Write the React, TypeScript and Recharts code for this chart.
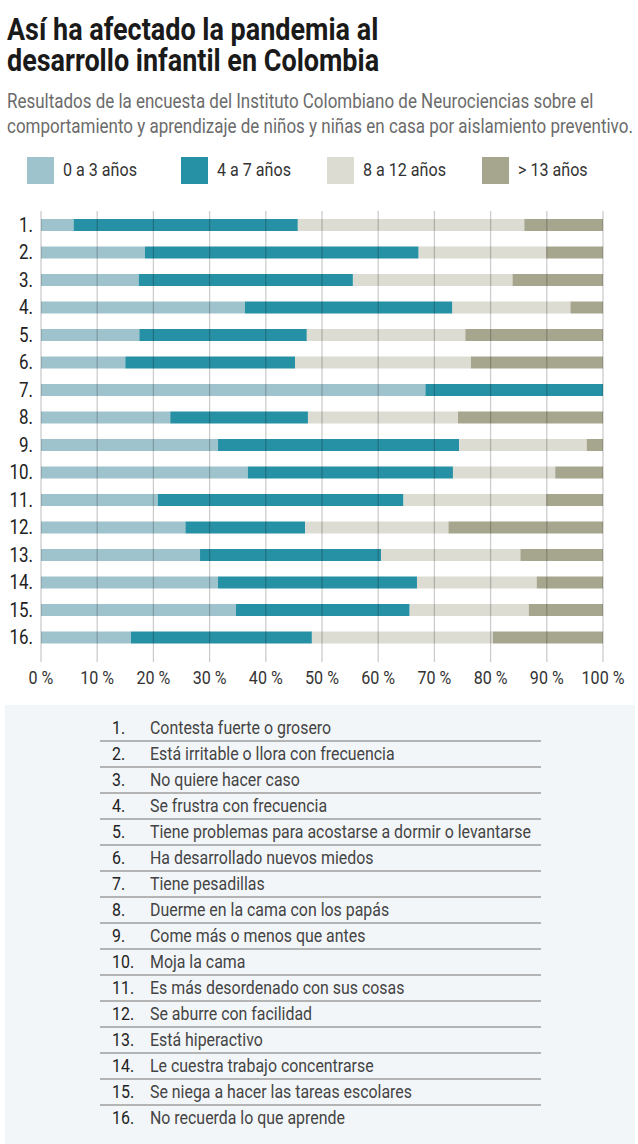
import { BarChart, Bar, XAxis, YAxis, ReferenceLine } from 'recharts'

const CATEGORIES = ['1.', '2.', '3.', '4.', '5.', '6.', '7.', '8.', '9.', '10.', '11.', '12.', '13.', '14.', '15.', '16.']
const AGE_0_3 = [5.8, 18.5, 17.4, 36.3, 17.5, 15.0, 68.4, 23.0, 31.5, 36.8, 20.8, 25.7, 28.3, 31.5, 34.7, 16.0]
const AGE_4_7 = [39.9, 48.7, 38.1, 36.9, 29.8, 30.2, 31.6, 24.5, 42.9, 36.5, 43.7, 21.3, 32.2, 35.4, 30.9, 32.2]
const AGE_8_12 = [40.3, 22.7, 28.4, 21.0, 28.2, 31.3, 0, 26.7, 22.7, 18.2, 25.4, 25.5, 24.8, 21.3, 21.2, 32.2]
const AGE_13 = [14.0, 10.1, 16.1, 5.8, 24.5, 23.5, 0, 25.8, 2.9, 8.5, 10.1, 27.5, 14.7, 11.8, 13.2, 19.6]
const X_TICKS = [0, 10, 20, 30, 40, 50, 60, 70, 80, 90, 100]

const SERIES = [
  { key: 'a', name: '0 a 3 años', color: '#9fc3cc' },
  { key: 'b', name: '4 a 7 años', color: '#2690a4' },
  { key: 'c', name: '8 a 12 años', color: '#dcdcd3' },
  { key: 'd', name: '> 13 años', color: '#a6a58d' },
]

const ITEMS = [
  'Contesta fuerte o grosero',
  'Está irritable o llora con frecuencia',
  'No quiere hacer caso',
  'Se frustra con frecuencia',
  'Tiene problemas para acostarse a dormir o levantarse',
  'Ha desarrollado nuevos miedos',
  'Tiene pesadillas',
  'Duerme en la cama con los papás',
  'Come más o menos que antes',
  'Moja la cama',
  'Es más desordenado con sus cosas',
  'Se aburre con facilidad',
  'Está hiperactivo',
  'Le cuestra trabajo concentrarse',
  'Se niega a hacer las tareas escolares',
  'No recuerda lo que aprende',
]

const data = CATEGORIES.map((id, i) => ({
  id,
  a: AGE_0_3[i],
  b: AGE_4_7[i],
  c: AGE_8_12[i],
  d: AGE_13[i],
}))

const FONT = 'Roboto, sans-serif'
const K = 0.87 // squeeze Roboto toward a condensed face

function Cond({ children, style }: any) {
  return (
    <span
      style={{
        display: 'inline-block',
        transform: `scaleX(${K})`,
        transformOrigin: '0 0',
        whiteSpace: 'nowrap',
        ...style,
      }}
    >
      {children}
    </span>
  )
}

function YTick({ y, payload }: any) {
  return (
    <text
      transform={`translate(33, ${y}) scale(${K},1)`}
      textAnchor="end"
      dy={7}
      fontSize={19.5}
      fontFamily={FONT}
      fill="#222"
    >
      {payload.value}
    </text>
  )
}

function XTick({ x, payload }: any) {
  return (
    <text
      transform={`translate(${x}, 484) scale(${K},1)`}
      textAnchor="middle"
      fontSize={18.5}
      fontFamily={FONT}
      fill="#333"
    >
      {payload.value} %
    </text>
  )
}

const LEGEND_X = [27, 181, 327, 482]

export default function App() {
  return (
    <div
      style={{
        position: 'absolute',
        left: 0,
        top: 0,
        width: 638,
        height: 1144,
        background: '#fff',
        fontFamily: FONT,
        overflow: 'hidden',
      }}
    >
      <div style={{ position: 'absolute', left: 7, top: 14, fontSize: 31, lineHeight: '31px', height: 31, fontWeight: 700, color: '#1a1a1a' }}>
        <Cond>Así ha afectado la pandemia al</Cond>
      </div>
      <div style={{ position: 'absolute', left: 7, top: 45, fontSize: 31, lineHeight: '31px', height: 31, fontWeight: 700, color: '#1a1a1a' }}>
        <Cond>desarrollo infantil en Colombia</Cond>
      </div>
      <div style={{ position: 'absolute', left: 7, top: 89, fontSize: 19.5, lineHeight: '25px', color: '#6b6b6b' }}>
        <Cond>Resultados de la encuesta del Instituto Colombiano de Neurociencias sobre el</Cond>
        <br />
        <Cond>comportamiento y aprendizaje de niños y niñas en casa por aislamiento preventivo.</Cond>
      </div>

      {SERIES.map((s, i) => (
        <div key={s.key}>
          <div
            style={{ position: 'absolute', left: LEGEND_X[i], top: 157, width: 27, height: 27, background: s.color }}
          />
          <div style={{ position: 'absolute', left: LEGEND_X[i] + 36, top: 159, fontSize: 18.5, lineHeight: '22px', color: '#333' }}>
            <Cond>{s.name}</Cond>
          </div>
        </div>
      ))}

      <div style={{ position: 'absolute', left: 0, top: 200 }}>
        <BarChart
          width={638}
          height={500}
          data={data}
          layout="vertical"
          margin={{ top: 11, right: 35, bottom: 0, left: 0 }}
          barSize={12}
        >
          <XAxis
            type="number"
            domain={[0, 100]}
            ticks={X_TICKS}
            axisLine={false}
            tickLine={false}
            height={38}
            tick={<XTick />}
            interval={0}
          />
          <YAxis
            type="category"
            dataKey="id"
            width={41}
            axisLine={false}
            tickLine={false}
            tick={<YTick />}
            interval={0}
            padding={{ top: 0, bottom: 11 }}
          />
          {SERIES.map((s) => (
            <Bar key={s.key} dataKey={s.key} name={s.name} stackId="s" fill={s.color} isAnimationActive={false} />
          ))}
          {X_TICKS.map((t) => (
            <ReferenceLine key={t} x={t} stroke="#000" strokeOpacity={0.2} strokeWidth={1.3} />
          ))}
        </BarChart>
      </div>

      <div style={{ position: 'absolute', left: 5, top: 705, width: 630, height: 439, background: '#f3f6f9' }} />
      {ITEMS.map((item, i) => (
        <div key={item}>
          <div style={{ position: 'absolute', left: 112, top: 716 + i * 26, fontSize: 18.3, lineHeight: '23px', color: '#222' }}>
            <Cond>{CATEGORIES[i]}</Cond>
          </div>
          <div style={{ position: 'absolute', left: 150, top: 716 + i * 26, fontSize: 18.3, lineHeight: '23px', color: '#444' }}>
            <Cond>{item}</Cond>
          </div>
          {i < ITEMS.length - 1 && (
            <div style={{ position: 'absolute', left: 100, top: 740 + i * 26, width: 441, height: 1.5, background: '#b4b4b4' }} />
          )}
        </div>
      ))}
    </div>
  )
}
